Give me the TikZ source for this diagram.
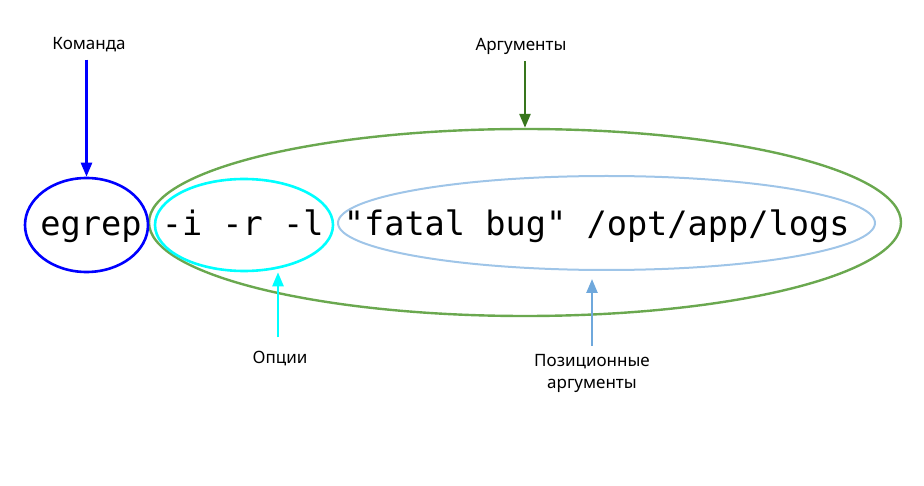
\documentclass[tikz,border=0pt]{standalone}
\usepackage{fontspec}
\setmainfont{Noto Sans}
\setmonofont{DejaVu Sans Mono}
\usetikzlibrary{shapes.geometric,arrows.meta}
\definecolor{komanda}{HTML}{0000FF}
\definecolor{opcii}{HTML}{00FFFF}
\definecolor{argum}{HTML}{6AA84F}
\definecolor{argumdark}{HTML}{38761D}
\definecolor{pozic}{HTML}{9FC5E8}
\definecolor{pozicdark}{HTML}{6FA8DC}

\begin{document}
\begin{tikzpicture}[x=1pt, y=-1pt, >={Triangle[length=14pt,width=11pt]},
      oval/.style={draw, ellipse, inner sep=0pt, line width=2pt},
      lbl/.style={font=\fontsize{17}{22}\selectfont, align=center, inner sep=0pt},
      ptr/.style={->, line width=2.5pt}]
    \useasboundingbox (0,0) rectangle (924,486);
    \node[oval, draw=argum, line width=2.4pt, minimum width=752pt, minimum height=187pt] (args) at (525,222.5) {};
    \node[oval, draw=komanda, line width=2.6pt, minimum width=123pt, minimum height=94pt] (cmd) at (86.5,225) {};
    \node[oval, draw=opcii, line width=2.6pt, minimum width=178pt, minimum height=92pt] (opts) at (244,225) {};
    \node[oval, draw=pozic, minimum width=537pt, minimum height=94pt] (pos) at (606.5,223) {};
    \node[anchor=base, inner sep=0pt, font=\fontsize{33.6}{40}\selectfont\ttfamily] (line) at (445,236)
      {egrep -i -r -l "fatal bug" /opt/app/logs};
    \node[lbl, anchor=base] (cmdlbl) at (89,50) {Команда};
    \node[lbl, anchor=base] (argslbl) at (521,51) {Аргументы};
    \node[lbl, anchor=base] (optslbl) at (280,363) {Опции};
    \node[lbl, anchor=north] (poslbl) at (592,354) {Позиционные\\аргументы};
    \draw[ptr, komanda] ([yshift=-7pt]cmdlbl.south -| cmd.north) -- (cmd.north);
    \draw[ptr, argumdark] ([yshift=-6pt]argslbl.south -| args.north) -- (args.north);
    \draw[ptr, opcii] ([yshift=13pt]optslbl.north -| 278,0) -- (278,0 |- opts.south);
    \draw[ptr, pozicdark, shorten >=8pt] ([yshift=8pt]poslbl.north) -- (poslbl.north |- pos.south);
  \end{tikzpicture}
\end{document}
